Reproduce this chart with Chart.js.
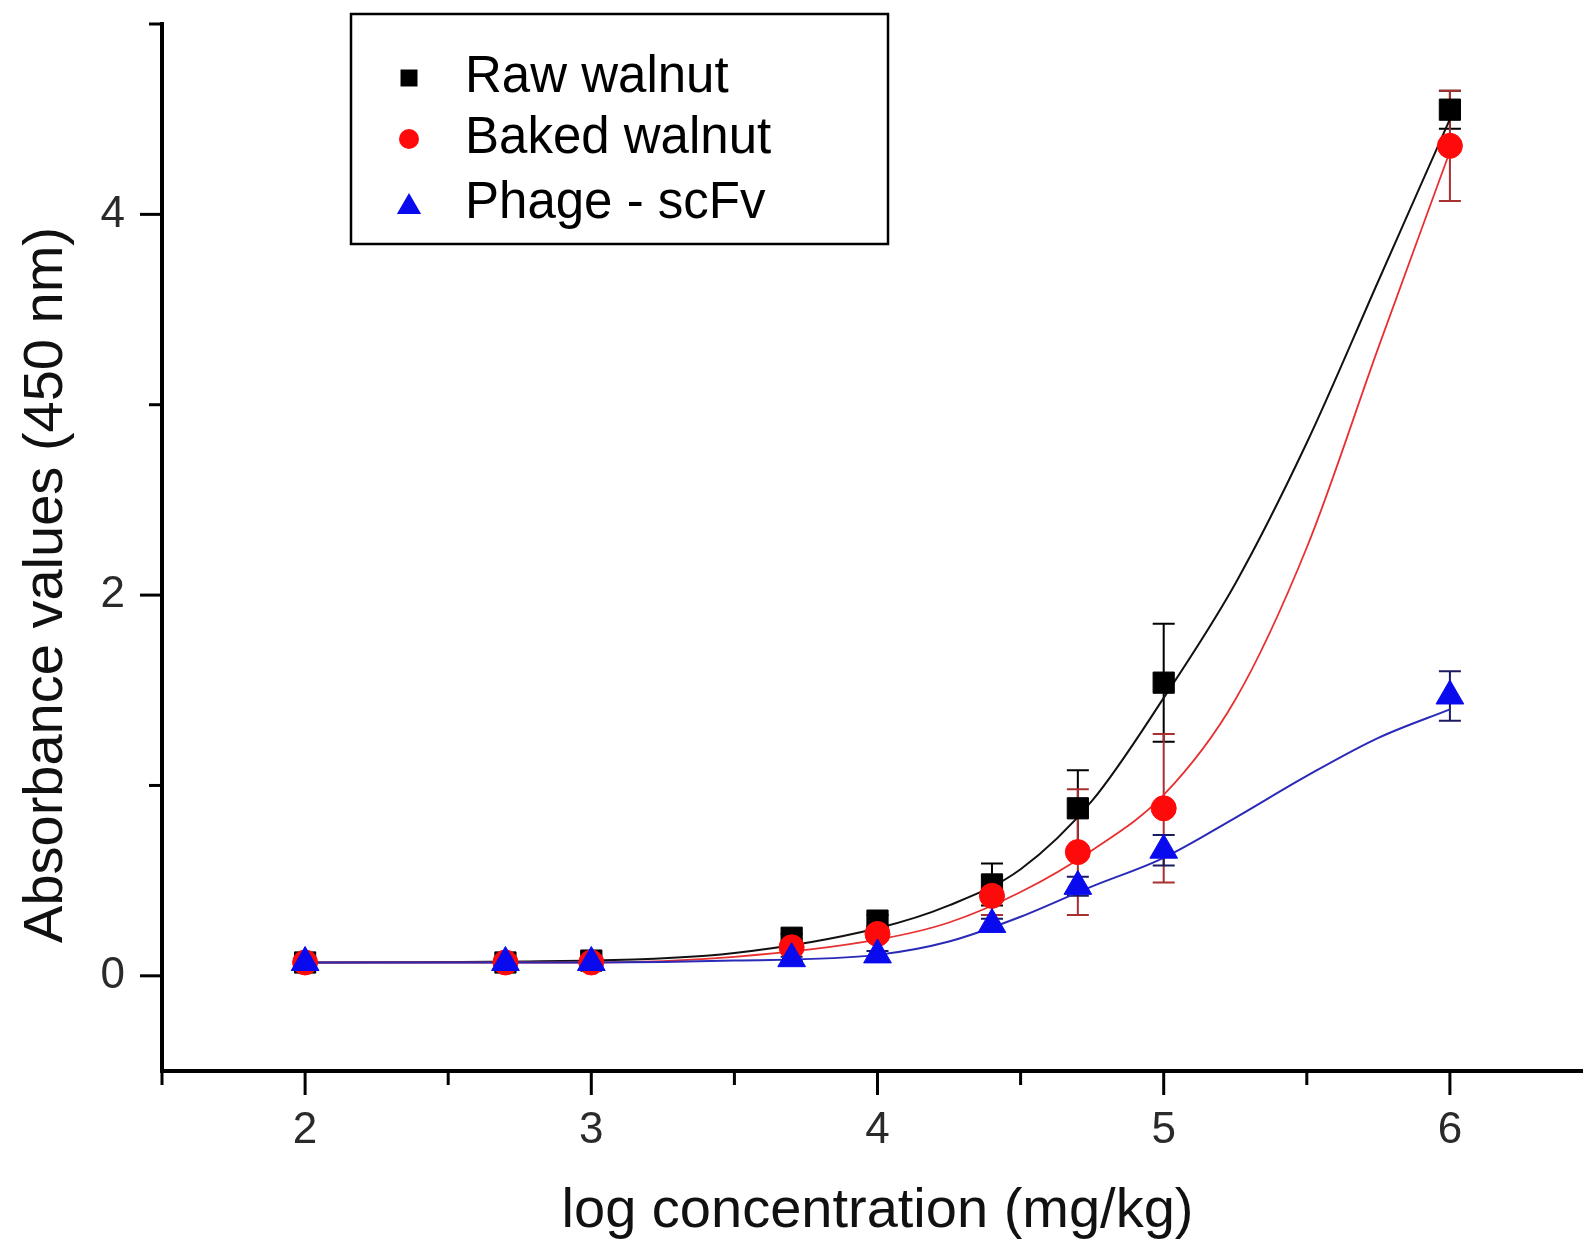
<!DOCTYPE html>
<html><head><meta charset="utf-8">
<script src="https://cdn.jsdelivr.net/npm/chart.js@4/dist/chart.umd.min.js"></script>
<style>
html,body{margin:0;padding:0;overflow:hidden;background:#fff;}
#c{display:block;width:1600px;height:1244px;}
</style></head><body>
<canvas id="c" width="1600" height="1244"></canvas>
<script>
// measured points
const concentrations = [2, 2.7, 3, 3.7, 4, 4.4, 4.7, 5, 6];
const rawWalnut      = [0.07, 0.07, 0.08, 0.20, 0.29, 0.48, 0.88, 1.54, 4.55];
const rawWalnutErr   = [0.01, 0.01, 0.01, 0.02, 0.03, 0.11, 0.20, 0.31, 0.10];
const bakedWalnut    = [0.07, 0.07, 0.07, 0.15, 0.22, 0.42, 0.65, 0.88, 4.36];
const bakedWalnutErr = [0.01, 0.01, 0.01, 0.02, 0.03, 0.10, 0.33, 0.39, 0.29];
const phageScFv      = [0.07, 0.07, 0.07, 0.09, 0.11, 0.27, 0.47, 0.66, 1.47];
const phageScFvErr   = [0.01, 0.01, 0.01, 0.01, 0.02, 0.03, 0.05, 0.08, 0.13];
// fitted curves
const fitX           = [2, 3, 3.5, 4, 4.25, 4.5, 4.75, 5, 5.25, 5.5, 5.75, 6];
const rawWalnutFit   = [0.07, 0.08, 0.12, 0.25, 0.37, 0.56, 0.92, 1.46, 2.06, 2.80, 3.65, 4.50];
const bakedWalnutFit = [0.07, 0.07, 0.10, 0.19, 0.28, 0.44, 0.66, 0.95, 1.45, 2.25, 3.30, 4.33];
const phageScFvFit   = [0.07, 0.07, 0.08, 0.11, 0.18, 0.31, 0.47, 0.62, 0.83, 1.05, 1.25, 1.40];

const seriesLabels = ['Raw walnut', 'Baked walnut', 'Phage - scFv'];
const xMajorTicks = [2, 3, 4, 5, 6];
const xMinorTicks = [1.5, 2.5, 3.5, 4.5, 5.5, 6.5];
const yMajorTicks = [0, 2, 4];
const yMinorTicks = [1, 3, 5];
const xTitle = 'log concentration (mg/kg)';
const yTitle = 'Absorbance values (450 nm)';

const FONT = "'Liberation Sans', Arial, sans-serif";
const toXY = (xs, arr) => xs.map((x, i) => ({x: x, y: arr[i]}));

const styles = [
  {line: '#111111', fill: '#000000', err: '#000000', shape: 'rect', r: 15, lw: 2},
  {line: '#e83030', fill: '#ff0a0a', err: '#a83030', shape: 'circle', r: 12.5, lw: 1.8},
  {line: '#2a2ab8', fill: '#0a0aee', err: '#1a1a60', shape: 'triangle', r: 16, lw: 2}
];
const values = [rawWalnut, bakedWalnut, phageScFv];
const errors = [rawWalnutErr, bakedWalnutErr, phageScFvErr];
const fits = [rawWalnutFit, bakedWalnutFit, phageScFvFit];

const errorBars = {
  id: 'errorBars',
  beforeDatasetsDraw(chart) {
    const {ctx, scales: {x, y}} = chart;
    ctx.save();
    values.forEach((vals, d) => {
      ctx.strokeStyle = styles[d].err;
      ctx.lineWidth = 2;
      vals.forEach((v, i) => {
        const px = x.getPixelForValue(concentrations[i]);
        const top = y.getPixelForValue(v + errors[d][i]);
        const bot = y.getPixelForValue(v - errors[d][i]);
        ctx.beginPath();
        ctx.moveTo(px, top); ctx.lineTo(px, bot);
        ctx.moveTo(px - 11, top); ctx.lineTo(px + 11, top);
        ctx.moveTo(px - 11, bot); ctx.lineTo(px + 11, bot);
        ctx.stroke();
      });
    });
    ctx.restore();
  }
};

const tickMarks = {
  id: 'tickMarks',
  afterDraw(chart) {
    const {ctx, chartArea, scales: {x, y}} = chart;
    ctx.save();
    ctx.strokeStyle = '#000';
    ctx.lineWidth = 3;
    const drawX = (v, len) => {
      const px = x.getPixelForValue(v);
      ctx.beginPath(); ctx.moveTo(px, chartArea.bottom); ctx.lineTo(px, chartArea.bottom + len); ctx.stroke();
    };
    const drawY = (v, len) => {
      const py = y.getPixelForValue(v);
      ctx.beginPath(); ctx.moveTo(chartArea.left, py); ctx.lineTo(chartArea.left - len, py); ctx.stroke();
    };
    xMajorTicks.forEach(v => drawX(v, 24));
    xMinorTicks.forEach(v => drawX(v, 14));
    yMajorTicks.forEach(v => drawY(v, 22));
    yMinorTicks.forEach(v => drawY(v, 13));
    ctx.restore();
  }
};

function marker(ctx, shape, cx, cy, r, color) {
  ctx.fillStyle = color;
  ctx.beginPath();
  if (shape === 'rect') {
    const s = r * Math.SQRT1_2;
    ctx.rect(cx - s, cy - s, 2 * s, 2 * s);
  } else if (shape === 'circle') {
    ctx.arc(cx, cy, r, 0, Math.PI * 2);
  } else {
    ctx.moveTo(cx, cy - r);
    ctx.lineTo(cx + r * Math.sin(Math.PI * 2 / 3), cy + r / 2);
    ctx.lineTo(cx - r * Math.sin(Math.PI * 2 / 3), cy + r / 2);
    ctx.closePath();
  }
  ctx.fill();
}

const boxLegend = {
  id: 'boxLegend',
  afterDraw(chart) {
    const {ctx} = chart;
    ctx.save();
    ctx.fillStyle = '#fff';
    ctx.fillRect(351, 14, 537, 230);
    ctx.strokeStyle = '#000';
    ctx.lineWidth = 2.5;
    ctx.strokeRect(351, 14, 537, 230);
    const rows = [78, 139, 204];
    const legR = [12, 10, 14];
    seriesLabels.forEach((lab, i) => {
      marker(ctx, styles[i].shape, 409, rows[i] + (i === 2 ? 3 : 0), legR[i], styles[i].fill);
      ctx.fillStyle = '#000';
      ctx.font = '51px ' + FONT;
      ctx.textAlign = 'left';
      ctx.textBaseline = 'middle';
      ctx.fillText(lab, 465, rows[i]);
    });
    // y axis title
    ctx.translate(47, 585);
    ctx.rotate(-Math.PI / 2);
    ctx.fillStyle = '#111';
    ctx.font = '56px ' + FONT;
    ctx.textAlign = 'center';
    ctx.textBaseline = 'middle';
    ctx.fillText(yTitle, 0, 0);
    ctx.restore();
  }
};

const datasets = [];
values.forEach((vals, d) => {
  datasets.push({
    label: seriesLabels[d] + ' fit',
    data: toXY(fitX, fits[d]),
    showLine: true,
    borderColor: styles[d].line,
    borderWidth: styles[d].lw,
    cubicInterpolationMode: 'monotone',
    pointRadius: 0,
    order: 6 - d
  });
});
values.forEach((vals, d) => {
  datasets.push({
    label: seriesLabels[d],
    data: toXY(concentrations, vals),
    showLine: false,
    pointStyle: styles[d].shape,
    pointRadius: styles[d].r,
    pointBackgroundColor: styles[d].fill,
    pointBorderColor: styles[d].fill,
    pointBorderWidth: 1,
    order: 3 - d
  });
});

new Chart(document.getElementById('c'), {
  type: 'scatter',
  data: {datasets},
  options: {
    responsive: false,
    animation: false,
    devicePixelRatio: 1,
    layout: {autoPadding: false, padding: {left: 0, right: 7, top: 24, bottom: 0}},
    plugins: {legend: {display: false}, tooltip: {enabled: false}},
    scales: {
      x: {
        type: 'linear', min: 1.5, max: 6.5,
        afterBuildTicks: s => { s.ticks = [...xMinorTicks, ...xMajorTicks].sort((a, b) => a - b).map(v => ({value: v})); },
        afterFit: s => { s.height = 173; s.paddingLeft = 0; s.paddingRight = 0; },
        grid: {display: false, drawTicks: false},
        border: {display: true, color: '#000', width: 4},
        ticks: {
          autoSkip: false, maxRotation: 0, padding: 38, color: '#2a2a2a',
          font: {family: FONT, size: 44, lineHeight: 1},
          callback: v => xMajorTicks.includes(v) ? String(v) : ''
        },
        title: {display: true, text: xTitle, color: '#111', font: {family: FONT, size: 56, lineHeight: 1}, padding: {top: 0, bottom: 4}}
      },
      y: {
        type: 'linear', min: -0.5, max: 5,
        afterBuildTicks: s => { s.ticks = [...yMajorTicks, ...yMinorTicks].sort((a, b) => a - b).map(v => ({value: v})); },
        afterFit: s => { s.width = 162; s.paddingTop = 0; s.paddingBottom = 0; },
        grid: {display: false, drawTicks: false},
        border: {display: true, color: '#000', width: 4},
        ticks: {
          autoSkip: false, padding: 37, color: '#2a2a2a',
          font: {family: FONT, size: 44, lineHeight: 1},
          callback: v => yMajorTicks.includes(v) ? String(v) : ''
        }
      }
    }
  },
  plugins: [errorBars, tickMarks, boxLegend]
});
</script>
</body></html>
